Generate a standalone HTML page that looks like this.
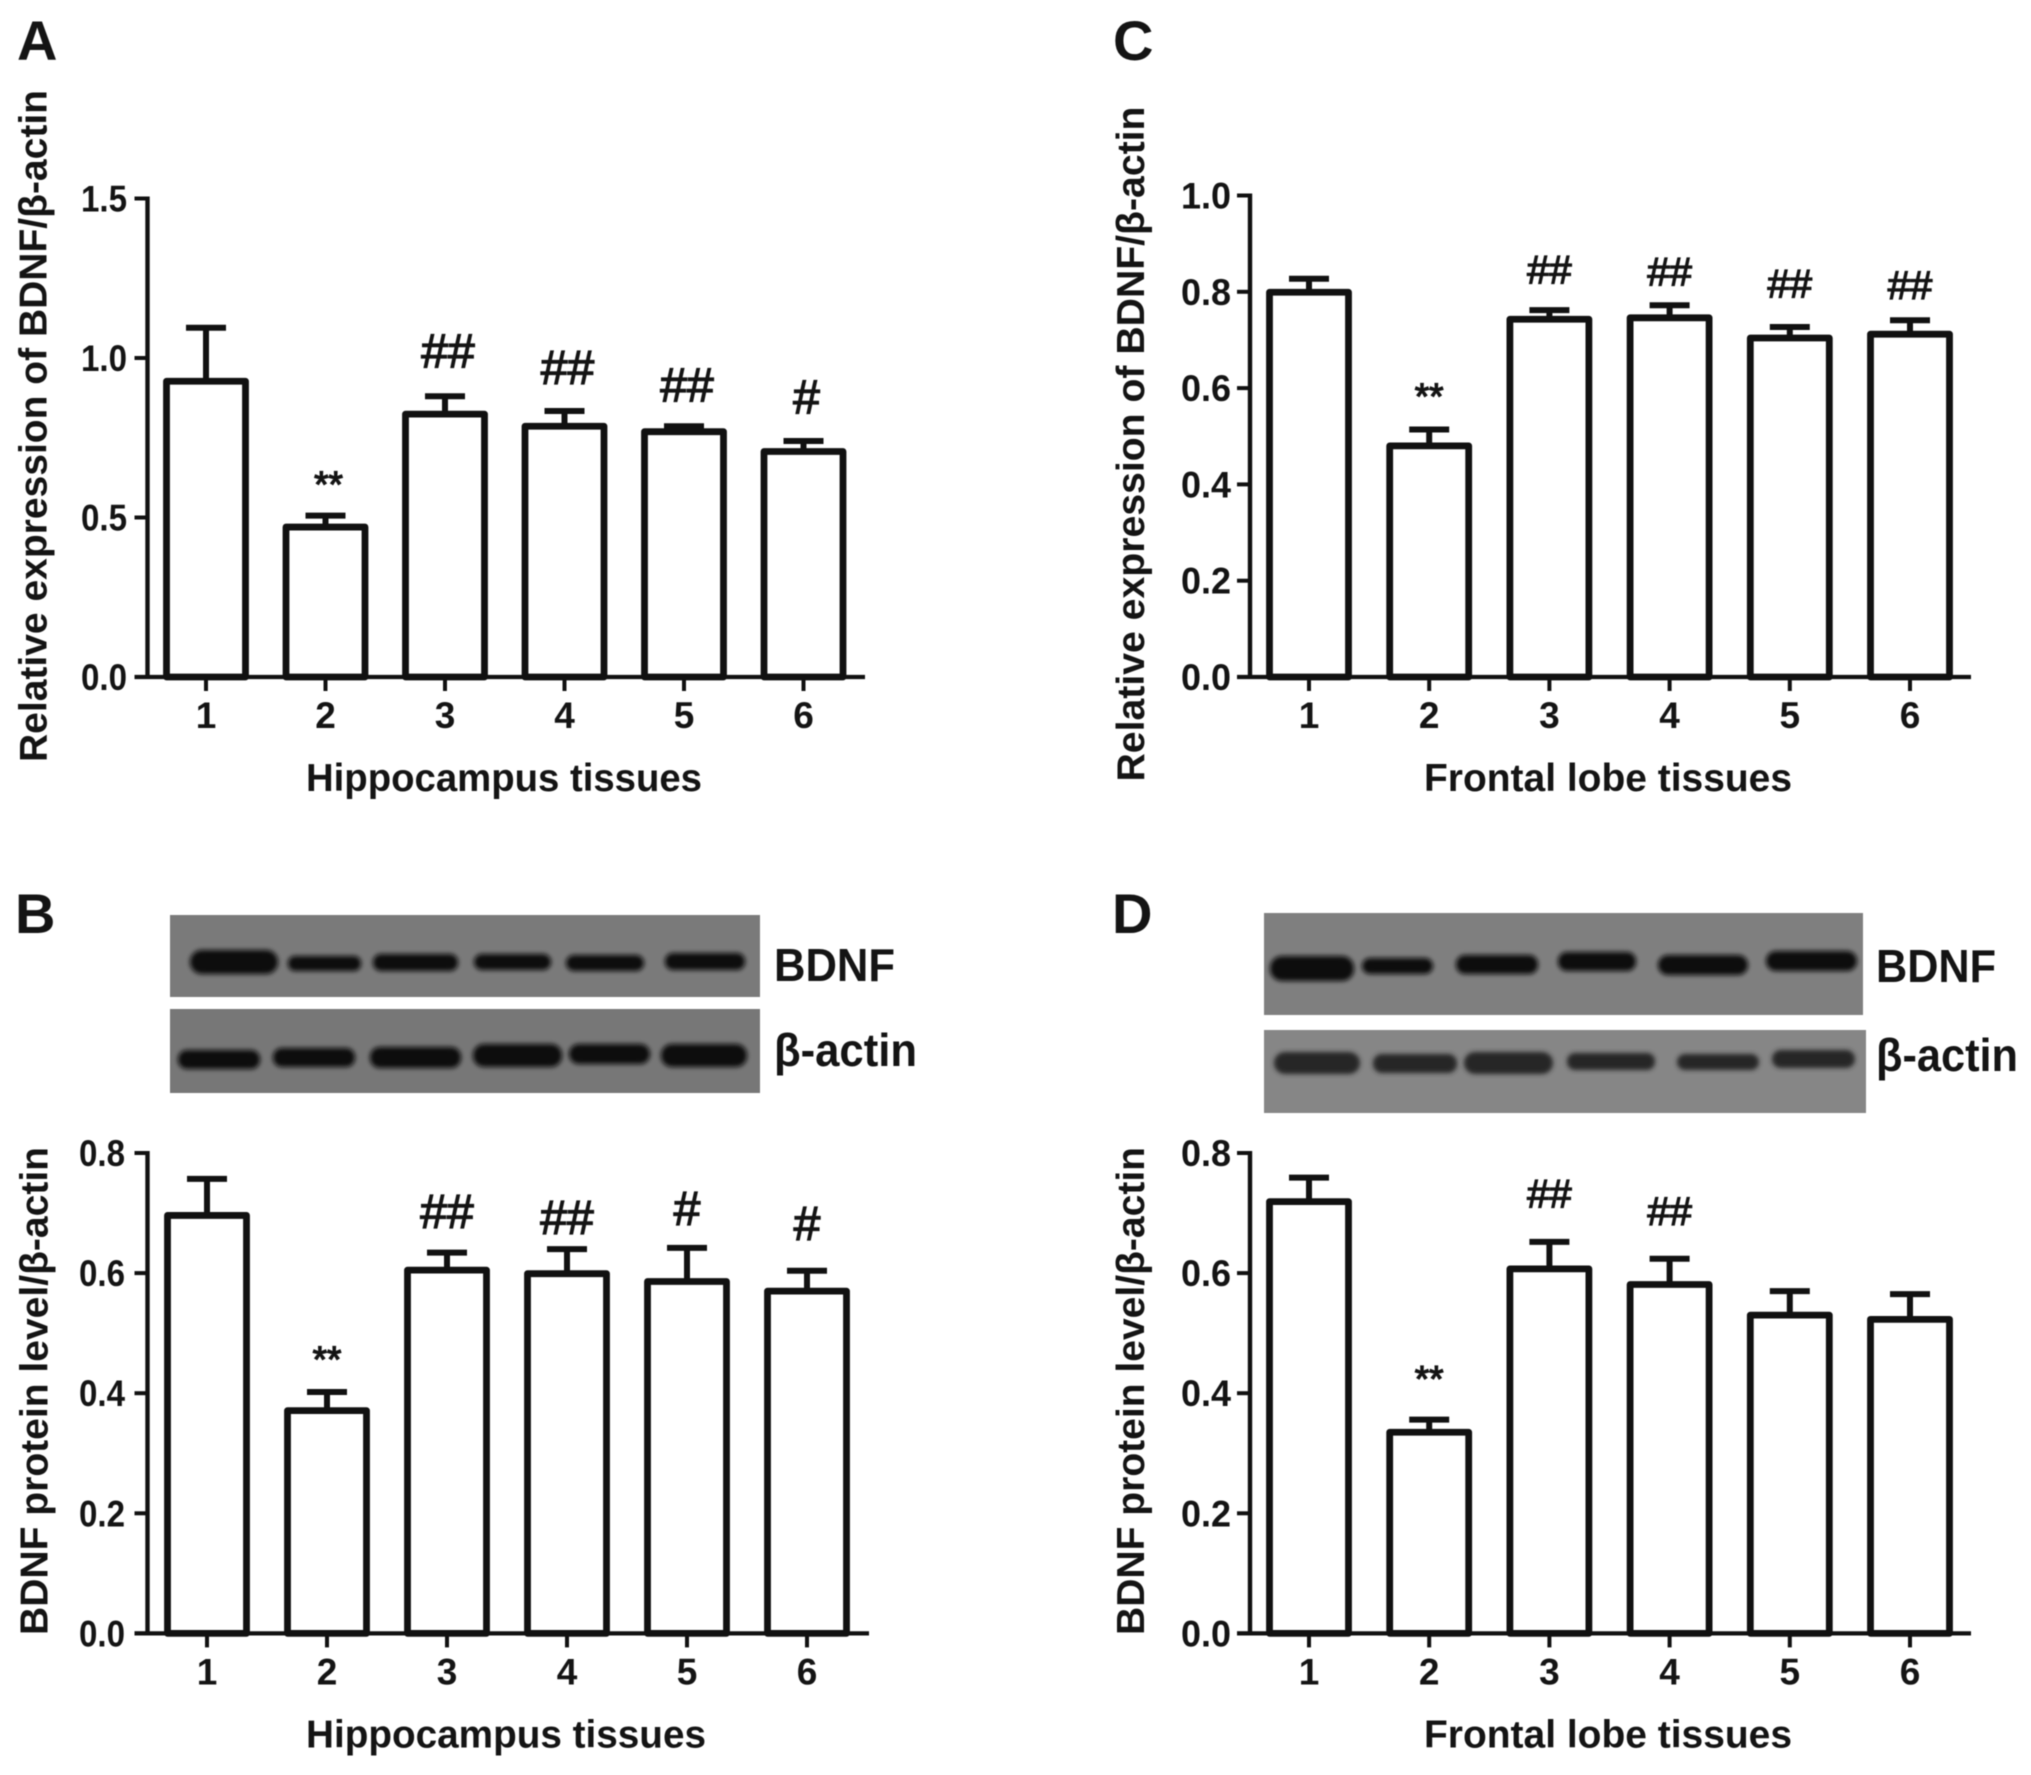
<!DOCTYPE html>
<html lang="en">
<head>
<meta charset="utf-8">
<title>BDNF expression in hippocampus and frontal lobe tissues</title>
<style>
html,body{margin:0;padding:0;background:#fff;}
svg{display:block;filter:blur(0.6px);}
text{font-family:"Liberation Sans",Arial,sans-serif;fill:#141414;}
.b{font-weight:bold;}
</style>
</head>
<body>
<svg id="figure" xmlns="http://www.w3.org/2000/svg" width="2031" height="1775" viewBox="0 0 2031 1775">
<defs>
<filter id="soft" x="-10%" y="-60%" width="120%" height="220%"><feGaussianBlur stdDeviation="2.4"/></filter>
</defs>
<rect width="2031" height="1775" fill="#ffffff"/>

<text class="b" x="17" y="60" font-size="56">A</text>
<text class="b" x="15" y="933" font-size="56">B</text>
<text class="b" x="1113" y="60" font-size="56">C</text>
<text class="b" x="1112" y="933" font-size="56">D</text>

<g>
<rect x="170" y="915" width="590" height="82" fill="#7a7a7a"/>
<g fill="#0c0c0c" filter="url(#soft)">
<rect x="190" y="950" width="88" height="24" rx="12"/>
<rect x="288" y="956" width="73" height="15" rx="7"/>
<rect x="373" y="954" width="85" height="17" rx="8"/>
<rect x="474" y="954" width="77" height="16" rx="8"/>
<rect x="566" y="955" width="78" height="16" rx="8"/>
<rect x="665" y="953" width="80" height="17" rx="8"/>
</g>
<rect x="170" y="1009" width="590" height="84" fill="#777777"/>
<g fill="#0a0a0a" filter="url(#soft)">
<rect x="178" y="1050" width="82" height="19" rx="9"/>
<rect x="273" y="1048" width="82" height="19" rx="9"/>
<rect x="370" y="1047" width="91" height="21" rx="10"/>
<rect x="473" y="1044" width="89" height="23" rx="11"/>
<rect x="569" y="1044" width="81" height="20" rx="10"/>
<rect x="661" y="1044" width="86" height="23" rx="11"/>
</g>
<text class="b" x="774" y="981" font-size="46" textLength="121" lengthAdjust="spacingAndGlyphs">BDNF</text>
<text class="b" x="774" y="1066" font-size="46" textLength="143" lengthAdjust="spacingAndGlyphs">β-actin</text>
</g>

<g>
<rect x="1264" y="913" width="599" height="102" fill="#7f7f7f"/>
<g fill="#0c0c0c" filter="url(#soft)">
<rect x="1270" y="956" width="84" height="25" rx="12"/>
<rect x="1362" y="958" width="71" height="16" rx="8"/>
<rect x="1456" y="955" width="82" height="19" rx="9"/>
<rect x="1558" y="952" width="78" height="19" rx="9"/>
<rect x="1658" y="955" width="90" height="20" rx="10"/>
<rect x="1766" y="951" width="91" height="20" rx="10"/>
</g>
<rect x="1264" y="1030" width="602" height="83" fill="#868686"/>
<g fill="#262626" filter="url(#soft)">
<rect x="1274" y="1052" width="86" height="22" rx="11"/>
<rect x="1373" y="1054" width="84" height="19" rx="9"/>
<rect x="1464" y="1052" width="89" height="22" rx="11"/>
<rect x="1567" y="1053" width="88" height="17" rx="8"/>
<rect x="1677" y="1054" width="82" height="16" rx="8"/>
<rect x="1772" y="1050" width="83" height="18" rx="9"/>
</g>
<text class="b" x="1876" y="982" font-size="46" textLength="120" lengthAdjust="spacingAndGlyphs">BDNF</text>
<text class="b" x="1876" y="1071" font-size="46" textLength="142" lengthAdjust="spacingAndGlyphs">β-actin</text>
</g>

<g id="panels"></g>
</svg>

<script>
// Shared category and tick labels
const groupLabels = ['1', '2', '3', '4', '5', '6'];
const ticksA = ['0.0', '0.5', '1.0', '1.5'];
const ticksB = ['0.0', '0.2', '0.4', '0.6', '0.8'];
const ticksC = ['0.0', '0.2', '0.4', '0.6', '0.8', '1.0'];
const ticksD = ['0.0', '0.2', '0.4', '0.6', '0.8'];

// Panel A: hippocampus mRNA
const meansA = [0.927, 0.470, 0.824, 0.786, 0.769, 0.707];
const errorsA = [0.168, 0.036, 0.056, 0.048, 0.017, 0.033];
const marksA = ['', '**', '##', '##', '##', '#'];
const markLevelsA = [0, 0.63, 1.021, 0.97, 0.915, 0.877];

// Panel B: hippocampus protein
const meansB = [0.696, 0.371, 0.605, 0.599, 0.586, 0.570];
const errorsB = [0.061, 0.031, 0.029, 0.041, 0.056, 0.034];
const marksB = ['', '**', '##', '##', '#', '#'];
const markLevelsB = [0, 0.470, 0.702, 0.692, 0.707, 0.682];

// Panel C: frontal lobe mRNA
const meansC = [0.799, 0.480, 0.743, 0.746, 0.704, 0.712];
const errorsC = [0.028, 0.034, 0.019, 0.026, 0.023, 0.029];
const marksC = ['', '**', '##', '##', '##', '##'];
const markLevelsC = [0, 0.600, 0.845, 0.841, 0.816, 0.813];

// Panel D: frontal lobe protein
const meansD = [0.719, 0.335, 0.607, 0.581, 0.530, 0.523];
const errorsD = [0.040, 0.021, 0.045, 0.043, 0.040, 0.042];
const marksD = ['', '**', '##', '##', '', ''];
const markLevelsD = [0, 0.437, 0.732, 0.703, 0, 0];

const SVG_NS = 'http://www.w3.org/2000/svg';
const root = document.getElementById('panels');

function make(parent, tag, attrs, content) {
  const el = document.createElementNS(SVG_NS, tag);
  for (const k in attrs) el.setAttribute(k, attrs[k]);
  if (content !== undefined) el.textContent = content;
  parent.appendChild(el);
  return el;
}

function drawPanel(p) {
  const group = make(root, 'g', {});
  
  

  const values = p.ticks.map(Number);
  const yMax = Math.max.apply(null, values);
  const yScale = function (v) { return p.yBottom - (v / yMax) * (p.yBottom - p.yTop); };
  const xScale = function (i) { return p.x0 + i * p.step; };

  // Bars first, so the axis lines sit on top
  p.means.forEach(function (m, i) {
    const cx = xScale(i);
    const top = yScale(m);
    const errTop = yScale(m + p.errors[i]);

    const stem = make(group, 'line', { x1: cx, x2: cx, y1: top, y2: errTop, stroke: '#111', 'stroke-width': 6 });
    
    

    const cap = make(group, 'line', { x1: cx - 20, x2: cx + 20, y1: errTop, y2: errTop, stroke: '#111', 'stroke-width': 6 });
    
    

    const bar = make(group, 'rect', { x: cx - 39.5, y: top, width: 79, height: p.yBottom - top, fill: '#fff', stroke: '#111', 'stroke-width': 6.8, 'stroke-linejoin': 'round' });
    
    

    const mark = p.marks[i];
    if (mark) {
      const star = mark.charAt(0) === '*';
      const size = star ? 37 : p.hashSize;
      const base = yScale(p.markLevels[i]) + (star ? 0.56 : 0.34) * size;
      const sig = make(group, 'text', { x: cx + p.markShift, y: base, 'font-size': size, 'text-anchor': 'middle', stroke: '#141414', 'stroke-width': 1.3 }, mark);
      
      
    }
  });

  const yAxis = make(group, 'line', { x1: p.axisX, x2: p.axisX, y1: p.yTop - 2, y2: p.yBottom + 2, stroke: '#111', 'stroke-width': 4.4 });
  
  

  const xAxis = make(group, 'line', { x1: p.axisX - 13, x2: p.axisRight, y1: p.yBottom, y2: p.yBottom, stroke: '#111', 'stroke-width': 4.2 });
  
  

  p.ticks.forEach(function (label) {
    const y = yScale(Number(label));
    const tick = make(group, 'line', { x1: p.axisX - 13, x2: p.axisX, y1: y, y2: y, stroke: '#111', 'stroke-width': 4 });
    
    
    const text = make(group, 'text', { x: p.labelX, y: y + 13, 'font-size': 37, 'font-weight': 'bold', 'text-anchor': 'end', textLength: p.tickLabelLen, lengthAdjust: 'spacingAndGlyphs' }, label);
    
    
  });

  groupLabels.forEach(function (label, i) {
    const cx = xScale(i);
    const tick = make(group, 'line', { x1: cx, x2: cx, y1: p.yBottom, y2: p.yBottom + 14, stroke: '#111', 'stroke-width': 4 });
    
    
    const text = make(group, 'text', { x: cx, y: p.yBottom + 51, 'font-size': 37, 'font-weight': 'bold', 'text-anchor': 'middle' }, label);
    
    
  });

  const xTitle = make(group, 'text', { x: p.xTitleX, y: p.yBottom + 114, 'font-size': 39, 'font-weight': 'bold', 'text-anchor': 'middle', textLength: p.xTitleLen, lengthAdjust: 'spacingAndGlyphs' }, p.xTitle);
  
  

  const yTitle = make(group, 'text', { x: 0, y: 0, transform: 'translate(' + p.yTitleX + ' ' + p.yTitleY + ') rotate(-90)', 'font-size': 39, 'font-weight': 'bold', 'text-anchor': 'middle', textLength: p.yTitleLen, lengthAdjust: 'spacingAndGlyphs' }, p.yTitle);
  
  
}

drawPanel({ id: 'a', ticks: ticksA, means: meansA, errors: errorsA, marks: marksA, markLevels: markLevelsA, markShift: 3,
  x0: 206, step: 119.5, axisX: 147.5, axisRight: 865, labelX: 127, tickLabelLen: 46, yTop: 198.5, yBottom: 677, hashSize: 48,
  xTitle: 'Hippocampus tissues', xTitleX: 504, xTitleLen: 396,
  yTitle: 'Relative expression of BDNF/\u03B2-actin', yTitleX: 46.5, yTitleY: 426, yTitleLen: 672 });

drawPanel({ id: 'b', ticks: ticksB, means: meansB, errors: errorsB, marks: marksB, markLevels: markLevelsB, markShift: 0,
  x0: 207, step: 120, axisX: 147.5, axisRight: 869, labelX: 125, tickLabelLen: 46, yTop: 1153, yBottom: 1633.4, hashSize: 48,
  xTitle: 'Hippocampus tissues', xTitleX: 506, xTitleLen: 400,
  yTitle: 'BDNF protein level/\u03B2-actin', yTitleX: 47.5, yTitleY: 1391, yTitleLen: 488 });

drawPanel({ id: 'c', ticks: ticksC, means: meansC, errors: errorsC, marks: marksC, markLevels: markLevelsC, markShift: 0,
  x0: 1309, step: 120.2, axisX: 1250, axisRight: 1971, labelX: 1231, tickLabelLen: 50, yTop: 195.5, yBottom: 677, hashSize: 40,
  xTitle: 'Frontal lobe tissues', xTitleX: 1608, xTitleLen: 368,
  yTitle: 'Relative expression of BDNF/\u03B2-actin', yTitleX: 1144, yTitleY: 444, yTitleLen: 675 });

drawPanel({ id: 'd', ticks: ticksD, means: meansD, errors: errorsD, marks: marksD, markLevels: markLevelsD, markShift: 0,
  x0: 1309, step: 120.2, axisX: 1250, axisRight: 1971, labelX: 1231, tickLabelLen: 50, yTop: 1153, yBottom: 1633.4, hashSize: 40,
  xTitle: 'Frontal lobe tissues', xTitleX: 1608, xTitleLen: 368,
  yTitle: 'BDNF protein level/\u03B2-actin', yTitleX: 1144, yTitleY: 1391, yTitleLen: 488 });
</script>
</body>
</html>
